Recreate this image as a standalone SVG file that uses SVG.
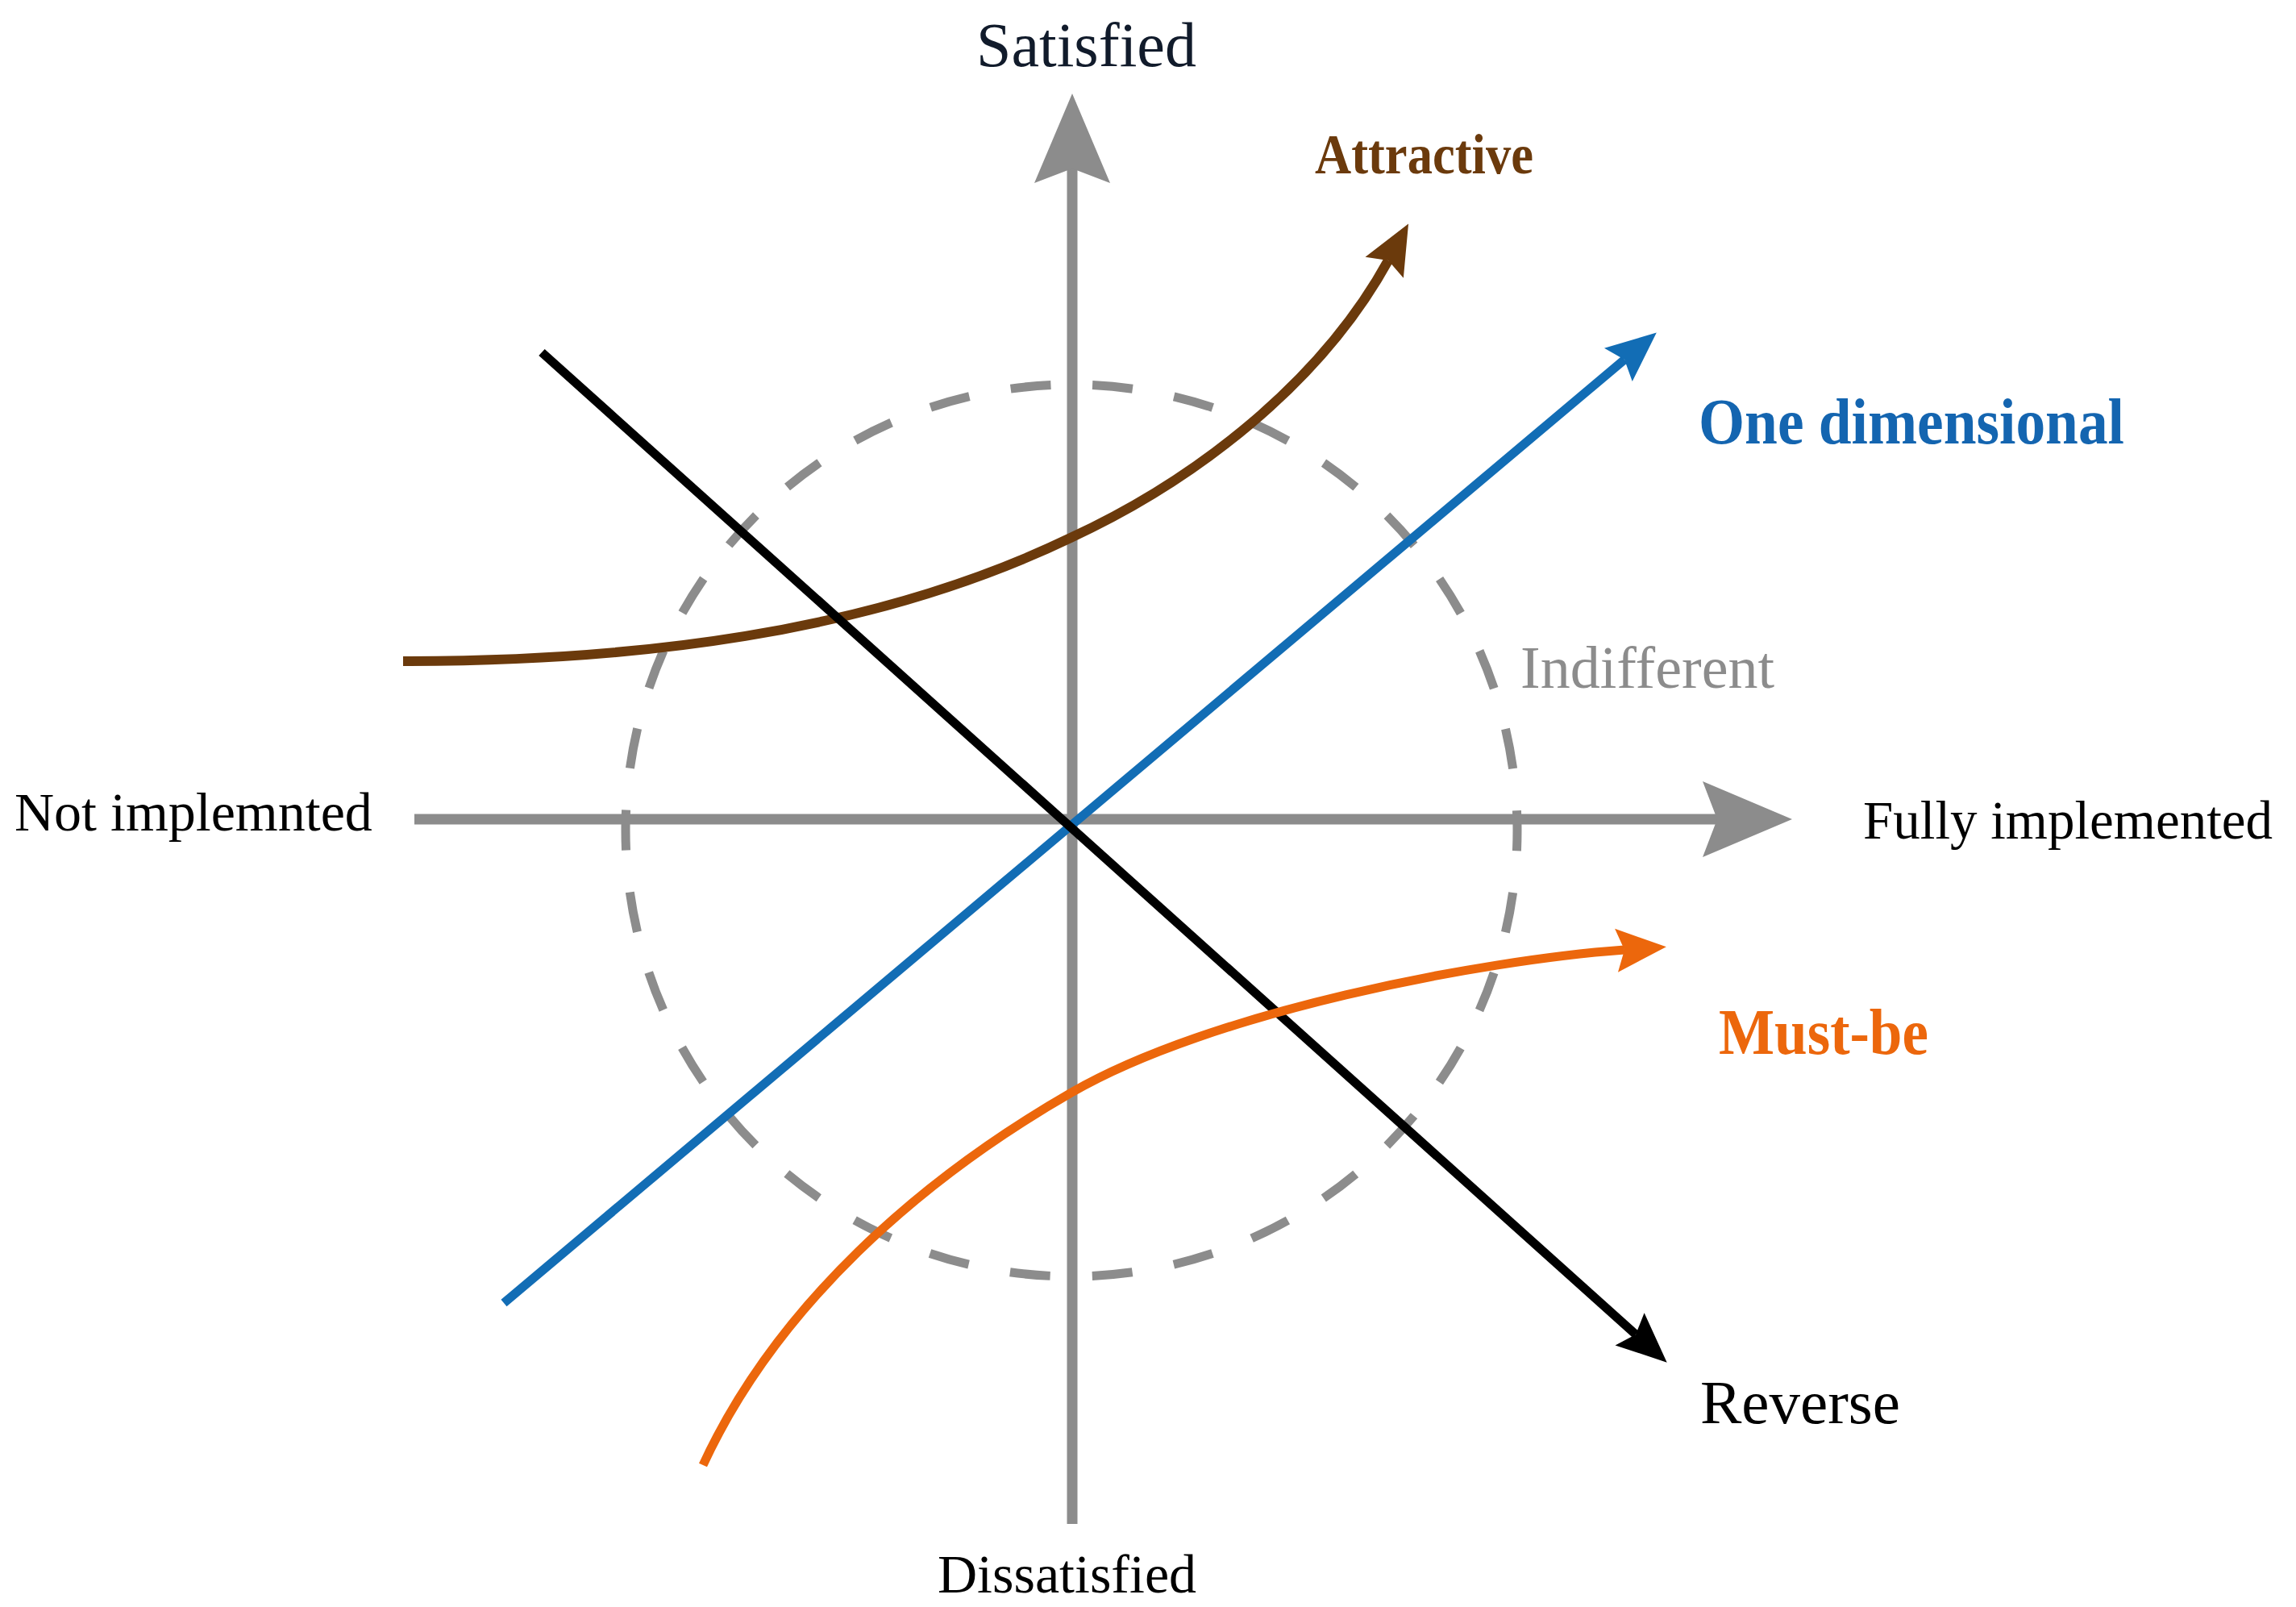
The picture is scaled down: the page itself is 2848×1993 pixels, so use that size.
<svg xmlns="http://www.w3.org/2000/svg" width="2848" height="1993" viewBox="0 0 2848 1993">
  <style>
    text { font-family: "Liberation Serif", "Times New Roman", serif; }
    .lbl { fill: #000000; }
    .axis { stroke: #8c8c8c; stroke-width: 13; fill: none; }
    .curve { fill: none; stroke-linecap: butt; }
  </style>
  <defs>
    <marker id="ah-axis" markerUnits="userSpaceOnUse" viewBox="0 -47 111 94" refX="18" refY="0" markerWidth="111" markerHeight="94" orient="auto" overflow="visible">
      <path d="M0,-47 L111,0 L0,47 L18,0 Z" fill="#8c8c8c"/>
    </marker>
    <marker id="ah-brown" markerUnits="userSpaceOnUse" viewBox="0 -27 62 54" refX="10" refY="0" markerWidth="62" markerHeight="54" orient="auto" overflow="visible">
      <path d="M0,-27 L62,0 L0,27 L10,0 Z" fill="#6b3a0c"/>
    </marker>
    <marker id="ah-blue" markerUnits="userSpaceOnUse" viewBox="0 -27 62 54" refX="10" refY="0" markerWidth="62" markerHeight="54" orient="auto" overflow="visible">
      <path d="M0,-27 L62,0 L0,27 L10,0 Z" fill="#126db5"/>
    </marker>
    <marker id="ah-black" markerUnits="userSpaceOnUse" viewBox="0 -27 62 54" refX="10" refY="0" markerWidth="62" markerHeight="54" orient="auto" overflow="visible">
      <path d="M0,-27 L62,0 L0,27 L10,0 Z" fill="#000000"/>
    </marker>
    <marker id="ah-orange" markerUnits="userSpaceOnUse" viewBox="0 -27 62 54" refX="10" refY="0" markerWidth="62" markerHeight="54" orient="auto" overflow="visible">
      <path d="M0,-27 L62,0 L0,27 L10,0 Z" fill="#ec670c"/>
    </marker>
  </defs>
  <rect x="0" y="0" width="2848" height="1993" fill="#ffffff"/>

  <g id="indifferent-circle">
    <path d="M1329,477 A553,553 0 1 1 1329,1583 A553,553 0 1 1 1329,477 Z" fill="none" stroke="#8c8c8c" stroke-width="11" stroke-dasharray="50 52.2" stroke-dashoffset="76.1"/>
  </g>

  <g id="axes">
    <path id="axis-y" class="axis" d="M1330,1890 L1330,209" marker-end="url(#ah-axis)"/>
    <path id="axis-x" class="axis" d="M514,1016 L2130,1016" marker-end="url(#ah-axis)"/>
  </g>

  <g id="connectors">
    <path id="attractive-curve" class="curve" d="M500,820 C780,820 1076,788 1328,667 C1484,595 1639,474 1722,323" stroke="#6b3a0c" stroke-width="12" marker-end="url(#ah-brown)"/>
    <path id="one-dimensional-line" class="curve" d="M625,1616 L2015,446" stroke="#126db5" stroke-width="11" marker-end="url(#ah-blue)"/>
    <path id="reverse-line" class="curve" d="M672,437 L2029,1655" stroke="#000000" stroke-width="11" marker-end="url(#ah-black)"/>
    <path id="must-be-curve" class="curve" d="M872,1817 C963,1620 1141,1463 1329,1355 C1502,1255 1835,1191 2015,1178" stroke="#ec670c" stroke-width="11" marker-end="url(#ah-orange)"/>
  </g>

  <g id="label-satisfied"><text x="1211" y="82" font-size="78" fill="#111b2b">Satisfied</text></g>
  <g id="label-dissatisfied"><text x="1163" y="1975" font-size="68" class="lbl">Dissatisfied</text></g>
  <g id="label-not-implemented"><text x="18" y="1030" font-size="68" class="lbl">Not implemnted</text></g>
  <g id="label-fully-implemented"><text x="2311" y="1040" font-size="67" class="lbl">Fully implemented</text></g>
  <g id="label-attractive"><text x="1631" y="215" font-size="70" font-weight="bold" fill="#6b3a0c" textLength="271" lengthAdjust="spacingAndGlyphs">Attractive</text></g>
  <g id="label-one-dimensional"><text x="2107" y="550" font-size="80" font-weight="bold" fill="#1465b0" textLength="528" lengthAdjust="spacingAndGlyphs">One dimensional</text></g>
  <g id="label-indifferent"><text x="1886" y="853" font-size="74" fill="#8c8c8c">Indifferent</text></g>
  <g id="label-must-be"><text x="2132" y="1307" font-size="80" font-weight="bold" fill="#ec670c" textLength="260" lengthAdjust="spacingAndGlyphs">Must-be</text></g>
  <g id="label-reverse"><text x="2109" y="1765" font-size="77" class="lbl">Reverse</text></g>
</svg>
